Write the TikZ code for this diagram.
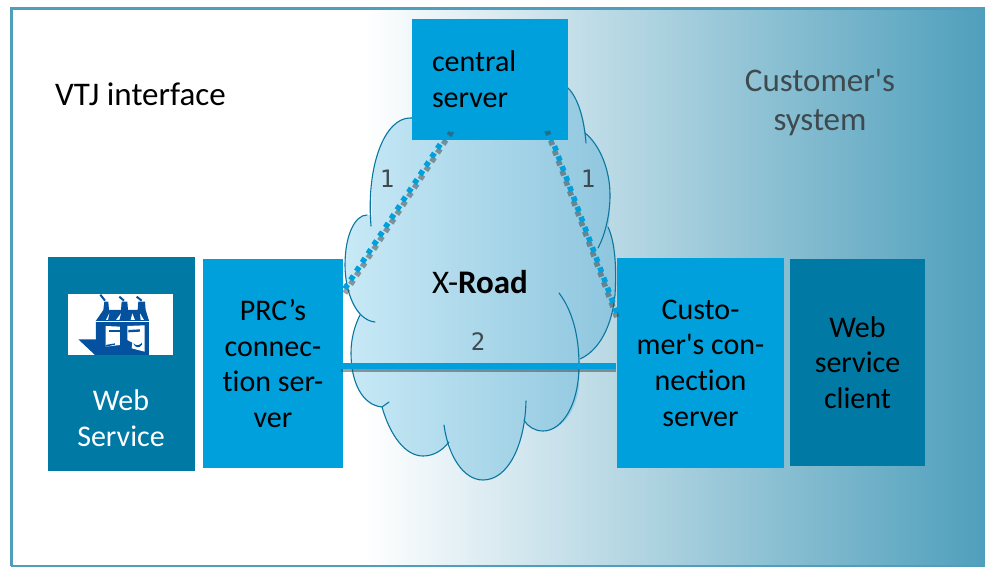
\documentclass[tikz,border=0pt]{standalone}
\usepackage{fontspec}
\newfontfamily\mainf{Carlito}[Ligatures=NoCommon]
\newfontfamily\monof{DejaVu Sans Mono}
\definecolor{dk}{HTML}{0079A5}
\definecolor{lt}{HTML}{00A0DC}
\definecolor{edge}{HTML}{4F9FBC}
\definecolor{cl}{HTML}{0B76A0}
\definecolor{logo}{HTML}{0451A0}
\definecolor{txt}{HTML}{3E4A4E}
\definecolor{cloudL}{HTML}{C8E9F6}
\definecolor{cloudR}{HTML}{8EC6DE}
\tikzset{
 box/.style={fill=#1,draw=none,inner sep=0pt,align=center,font=\mainf\fontsize{30}{35.7}\selectfont},
 lbl/.style={inner sep=0pt,align=center,font=\mainf\fontsize{30}{35.7}\selectfont},
 biglbl/.style={inner sep=0pt,align=center,font=\mainf\fontsize{33}{39}\selectfont},
 num/.style={inner sep=0pt,text=txt,font=\monof\fontsize{24}{24}\selectfont},
 shadowline/.style={draw=black!75,opacity=.5},
 lobe/.style={draw=cl,line width=1.1pt,line cap=round},
 dotleft/.style={line width=5.5pt,dash pattern=on 5pt off 5.5pt,dash phase=10.1pt},
 dotright/.style={line width=5.5pt,dash pattern=on 5pt off 5.8pt,dash phase=0.2pt}
}
\begin{document}
\begin{tikzpicture}[x=1pt,y=-1pt]
\useasboundingbox (0,0) rectangle (985,567);
% background
\fill[white] (0,0) rectangle (985,567);
\shade[left color=white,right color=edge] (365,9) rectangle (985,565);
\draw[edge,line width=3pt] (10,8.5) -- (985,8.5);
\draw[edge,line width=3pt] (11.5,7) -- (11.5,566);
\draw[edge,line width=1.6pt] (11,565.8) -- (985,565.8);
% cloud fill
\shade[left color=cloudL,right color=cloudR]
 (345,265) .. controls (345,235) and (355,215) .. (367,215) -- (372,215)
 .. controls (368,160) and (385,118) .. (410,118) -- (568,88)
 .. controls (578,98) and (584,118) .. (586,135)
 .. controls (600,145) and (610,170) .. (610,195)
 .. controls (610,205) and (610,218) .. (608,227)
 .. controls (614,240) and (617,262) .. (615,295)
 .. controls (612,325) and (600,350) .. (580,359)
 -- (579,387)
 .. controls (575,415) and (560,431) .. (543,431)
 .. controls (535,431) and (528,427) .. (524,420)
 .. controls (520,455) and (505,480) .. (483,480)
 .. controls (465,480) and (453,460) .. (449,442)
 .. controls (442,451) and (433,456) .. (423,456)
 .. controls (405,456) and (390,435) .. (382,407)
 .. controls (360,405) and (351,380) .. (351,353)
 .. controls (351,338) and (355,325) .. (360,315)
 .. controls (350,305) and (345,285) .. (345,265) -- cycle;
% cloud outline arcs
\draw[lobe] (371,226) .. controls (366,165) and (385,118) .. (410,118) -- (414,118);
\draw[lobe] (568,88) .. controls (578,98) and (584,118) .. (586,143);
\draw[lobe] (585,133) .. controls (600,145) and (610,170) .. (610,195) .. controls (610,215) and (605,235) .. (598,248);
\draw[lobe] (608,227) .. controls (614,240) and (617,262) .. (615,295) .. controls (612,325) and (600,350) .. (580,359);
\draw[lobe] (559,293) .. controls (572,310) and (579,335) .. (579,365) .. controls (579,405) and (562,431) .. (543,431) .. controls (535,431) and (528,427) .. (524,420);
\draw[lobe] (526,401) .. controls (525,445) and (508,480) .. (483,480) .. controls (463,480) and (448,455) .. (444,425);
\draw[lobe] (449,442) .. controls (442,451) and (433,456) .. (423,456) .. controls (405,456) and (390,435) .. (382,407);
\draw[lobe] (389,402) -- (382,407) .. controls (362,405) and (351,382) .. (351,353) .. controls (351,338) and (355,325) .. (360,315);
\draw[lobe] (375,322) .. controls (355,320) and (345,290) .. (345,265) .. controls (345,235) and (355,215) .. (367,215);
% boxes
\node[box=dk,minimum width=147pt,minimum height=214pt] (ws) at (121.5,364) {};
\node[box=lt,minimum width=140pt,minimum height=209pt,text=black] (prc) at (273,363.5) {PRC’s\\connec-\\tion ser-\\ver};
\node[box=lt,minimum width=156pt,minimum height=121pt,text width=116pt,align=left,text=black] (central) at (490,79.5) {central\\server};
\node[box=lt,minimum width=167pt,minimum height=210pt,text=black] (cust) at (700.5,363) {Custo-\\mer's con-\\nection\\server};
\node[box=dk,minimum width=135pt,minimum height=207pt,text=black] (client) at (857.5,362.5) {Web\\service\\client};
% logo
\node[fill=white,inner sep=0pt,minimum width=105pt,minimum height=61pt] (logobox) at (120.5,324.5) {};
\begin{scope}[shift={(40,250)},x=0.3333pt,y=-0.3333pt]
\fill[logo] (168,212) -- (190,180) -- (193,155) -- (205,155) -- (207,180) -- (243,180) -- (245,155) -- (262,155) -- (264,180) -- (293,180) -- (295,155) -- (315,155) -- (317,180) -- (327,212) -- (327,315) -- (168,315) -- cycle;
\fill[logo] (115,268) -- (168,268) -- (168,315) -- (165,315) -- cycle;
\draw[logo,line width=2pt] (181,134) -- (195,152);
\draw[logo,line width=2pt] (238,140) -- (252,152);
\draw[logo,line width=2pt] (290,140) -- (305,152);
\fill[white] (198,210) -- (208,190) -- (204,210) -- cycle;
\fill[white] (228,210) -- (243,190) -- (238,210) -- cycle;
\fill[white] (272,210) -- (277,190) -- (285,210) -- cycle;
\fill[white] (302,210) -- (300,190) -- (312,210) -- cycle;
\fill[white] (168,213) -- (327,213) -- (327,217) -- (168,217) -- cycle;
\fill[white] (197,228) -- (240,230) -- (240,285) -- (197,290) -- cycle;
\fill[white] (262,228) -- (314,226) -- (314,305) -- (275,295) -- (277,278) -- (262,270) -- cycle;
\fill[logo] (208,240) -- (240,240) -- (240,245) -- (208,245) -- cycle;
\fill[logo] (245,233) -- (262,233) -- (262,300) -- (245,300) -- cycle;
\fill[logo] (265,240) -- (300,238) -- (300,245) -- (265,247) -- cycle;
\fill[logo] (280,280) .. controls (290,290) and (300,285) .. (306,278) -- (306,284) .. controls (300,295) and (285,295) .. (280,280) -- cycle;
\fill[logo] (197,285) -- (225,280) -- (225,284) -- (197,290) -- cycle;
\end{scope}
% connector anchors
\coordinate (c1) at (452,126.5);
\coordinate (c2) at (547,126);
\coordinate (p1) at (342,293);
\coordinate (m1) at (618,316);
\coordinate (p2) at (341,366);
\coordinate (m2) at (616,366);
% dotted connectors
\draw[shadowline,dotleft,transform canvas={yshift=-4.5pt}] (c1) -- (p1);
\draw[lt,dotleft] (c1) -- (p1);
\draw[shadowline,dotright,transform canvas={yshift=-4.5pt}] (c2) -- (m1);
\draw[lt,dotright] (c2) -- (m1);
% solid connector
\draw[shadowline,line width=5pt] ([yshift=-3pt]p2) -- ([yshift=-3pt]m2);
\draw[lt,line width=5.5pt] (p2) -- (m2);
% labels
\node[lbl,text=white] (wsl) at (121,418) {Web\\Service};
\node[biglbl,anchor=west] (vtj) at (55,94) {VTJ interface};
\node[biglbl,text=txt] (custsys) at (820,103) {Customer's\\system};
\node[biglbl] (xroad) at (480,282) {X-\textbf{Road}};
\node[num] (n1) at (387,179) {1};
\node[num] (n1b) at (588,179) {1};
\node[num] (n2) at (478,342) {2};
\end{tikzpicture}
\end{document}
